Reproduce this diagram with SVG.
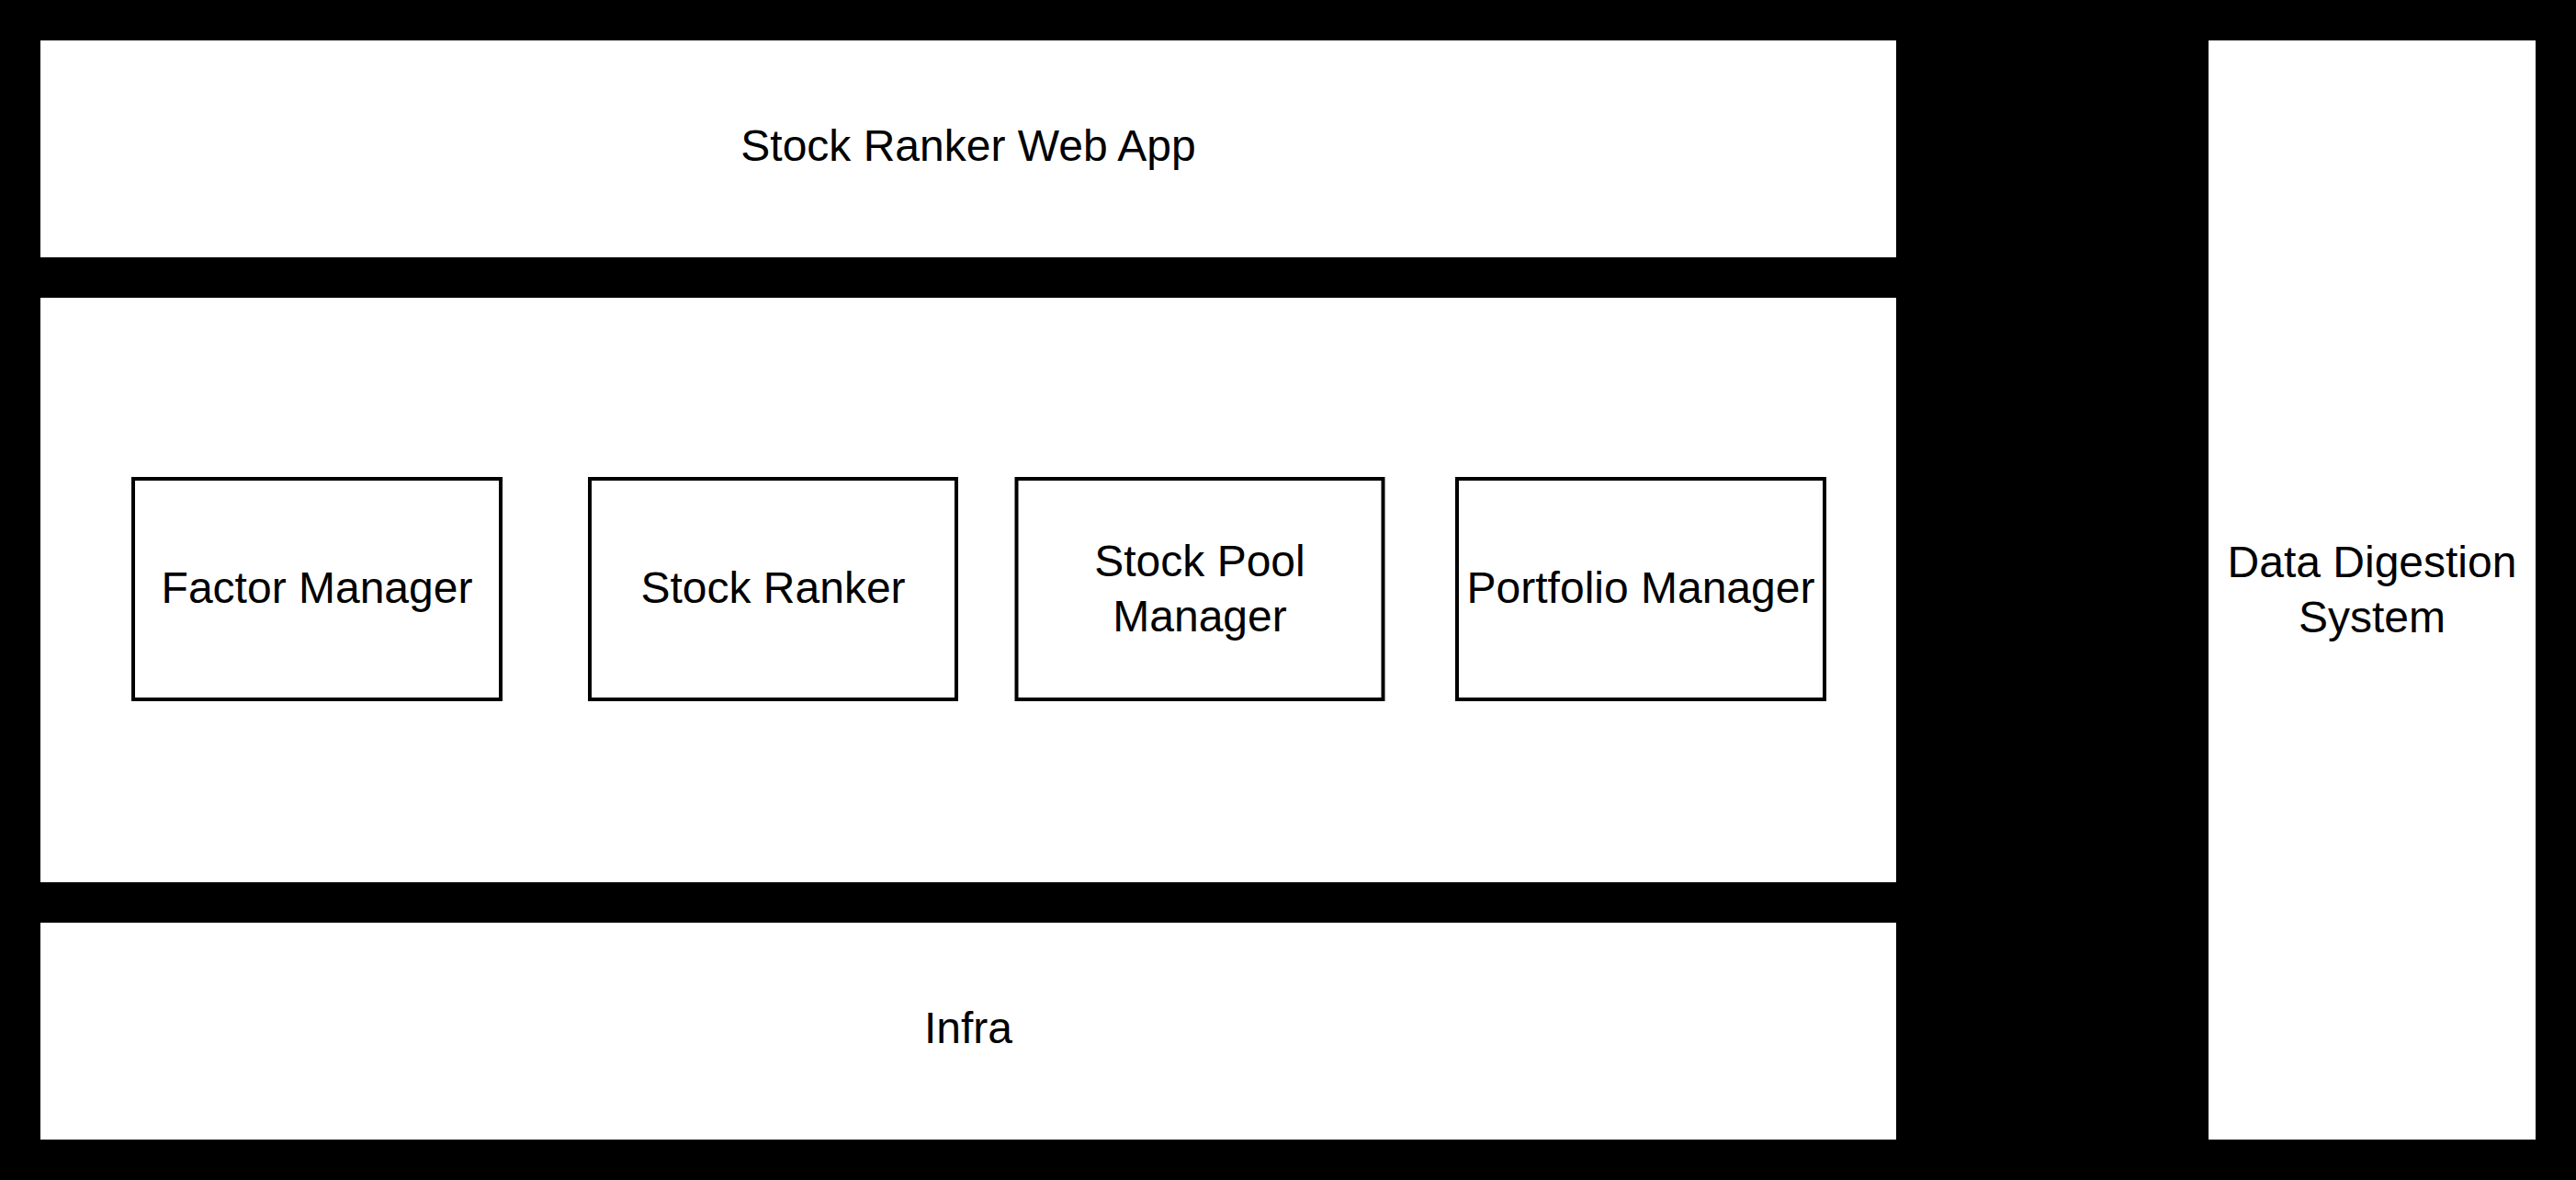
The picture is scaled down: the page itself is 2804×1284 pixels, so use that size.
<svg xmlns="http://www.w3.org/2000/svg" width="2804" height="1284" viewBox="0 0 2804 1284">
  <style>
    .layer { fill: #ffffff; stroke: none; }
    .comp { fill: #ffffff; stroke: #000000; stroke-width: 4; }
    .lbl { font-family: "Liberation Sans", Arial, sans-serif; font-size: 48px; fill: #000000; text-anchor: middle; }
  </style>
  <rect x="0" y="0" width="2804" height="1284" fill="#000000"/>
  <g id="web-app">
    <rect class="layer" x="44" y="44" width="2020" height="236"/>
    <text class="lbl" x="1054" y="175">Stock Ranker Web App</text>
  </g>
  <g id="core">
    <rect class="layer" x="44" y="324" width="2020" height="636"/>
  </g>
  <g id="factor-manager">
    <rect class="comp" x="145" y="521" width="400" height="240"/>
    <text class="lbl" x="345" y="656">Factor Manager</text>
  </g>
  <g id="stock-ranker">
    <rect class="comp" x="642" y="521" width="399" height="240"/>
    <text class="lbl" x="841.5" y="656">Stock Ranker</text>
  </g>
  <g id="stock-pool-manager">
    <rect class="comp" x="1106.5" y="521" width="399" height="240"/>
    <text class="lbl" x="1306" y="627">Stock Pool</text>
    <text class="lbl" x="1306" y="687">Manager</text>
  </g>
  <g id="portfolio-manager">
    <rect class="comp" x="1586" y="521" width="400" height="240"/>
    <text class="lbl" x="1786" y="656">Portfolio Manager</text>
  </g>
  <g id="infra">
    <rect class="layer" x="44" y="1004" width="2020" height="236"/>
    <text class="lbl" x="1054" y="1135">Infra</text>
  </g>
  <g id="data-digestion">
    <rect class="layer" x="2404" y="44" width="356" height="1196"/>
    <text class="lbl" x="2582" y="628">Data Digestion</text>
    <text class="lbl" x="2582" y="688">System</text>
  </g>
  <g id="connectors"></g>
</svg>
